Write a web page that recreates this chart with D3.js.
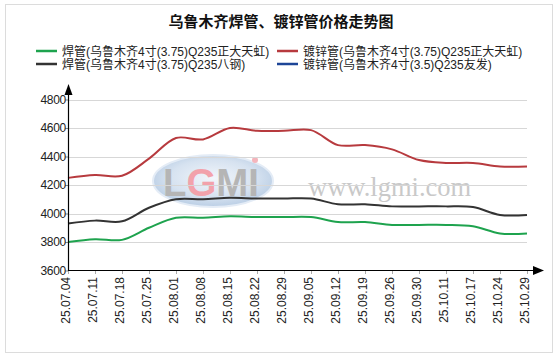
<!DOCTYPE html>
<html><head><meta charset="utf-8">
<script src="https://cdn.jsdelivr.net/npm/d3@7/dist/d3.min.js"></script>
<style>
html,body{margin:0;padding:0;background:#fff;}
</style></head>
<body><svg id="c" width="559" height="357" font-family="Arial,'Liberation Sans','Noto Sans CJK SC',sans-serif"></svg>
<script>
const title = "乌鲁木齐焊管、镀锌管价格走势图";
const dates = ["25.07.04","25.07.11","25.07.18","25.07.25","25.08.01","25.08.08","25.08.15","25.08.22","25.08.29","25.09.05","25.09.12","25.09.19","25.09.26","25.09.30","25.10.11","25.10.17","25.10.24","25.10.29"];
const seriesNames = ["焊管(乌鲁木齐4寸(3.75)Q235正大天虹)","镀锌管(乌鲁木齐4寸(3.75)Q235正大天虹)","焊管(乌鲁木齐4寸(3.75)Q235八钢)","镀锌管(乌鲁木齐4寸(3.5)Q235友发)"];
const weldZD = [3800,3820,3815,3900,3970,3970,3980,3975,3975,3975,3940,3940,3920,3920,3920,3910,3860,3860];
const galvZD = [4250,4270,4265,4385,4530,4520,4600,4580,4580,4585,4480,4480,4450,4375,4355,4355,4330,4330];
const weldBG = [3930,3950,3945,4040,4100,4100,4110,4105,4105,4105,4065,4065,4050,4050,4050,4045,3990,3990];
const galvYF = [null,null,null,null,null,null,null,null,null,null,null,null,null,null,null,null,null,null];
const yTicks = [3600,3800,4000,4200,4400,4600,4800];
const colors = ["#1ea34e","#b73a3e","#333333","#1d4597"];

const svg = d3.select("#c");
svg.append("rect").attr("x",5.5).attr("y",4.5).attr("width",547).attr("height",348)
  .attr("fill","#fff").attr("stroke","#dcdcdc");

const x = d3.scalePoint().domain(dates).range([68,527]);
const y = d3.scaleLinear().domain([3600,4800]).range([270.5,99.5]);

// title
svg.append("text").attr("x",281).attr("y",27).attr("text-anchor","middle")
  .attr("font-size",15).attr("font-weight","bold").attr("fill","#111").text(title);

// legend
const legPos = [[36,51],[277,51],[36,64],[277,64]];
seriesNames.forEach((n,i)=>{
  const [lx,ly]=legPos[i];
  svg.append("line").attr("x1",lx).attr("x2",lx+21).attr("y1",ly).attr("y2",ly)
    .attr("stroke",colors[i]).attr("stroke-width",2.5);
  svg.append("text").attr("x",lx+26).attr("y",ly+4.5).attr("font-size",12).attr("fill","#222").text(n);
});

// watermark
const wm = svg.append("g");
const defs = svg.append("defs");
const grad = defs.append("radialGradient").attr("id","eg").attr("cx","50%").attr("cy","45%").attr("r","60%");
grad.append("stop").attr("offset","0%").attr("stop-color","#f2f6fb");
grad.append("stop").attr("offset","60%").attr("stop-color","#d6e2f0");
grad.append("stop").attr("offset","100%").attr("stop-color","#b3c9e2");
wm.append("ellipse").attr("cx",213).attr("cy",181).attr("rx",60).attr("ry",26)
  .attr("fill","url(#eg)").attr("stroke","#e4ecf6").attr("stroke-width",2);
const lg = wm.append("text").attr("x",211).attr("y",196).attr("text-anchor","middle")
  .attr("font-size",38).attr("font-weight","bold").style("font-family","'Liberation Sans',Arial,sans-serif")
  .attr("textLength",96).attr("lengthAdjust","spacingAndGlyphs");
lg.append("tspan").attr("fill","#b5b5b5").text("L");
lg.append("tspan").attr("fill","#f2a2ab").text("G");
lg.append("tspan").attr("fill","#b5b5b5").text("MI");
wm.append("circle").attr("cx",255).attr("cy",160).attr("r",3).attr("fill","#f4b5bc");
wm.append("text").attr("x",308).attr("y",196).attr("font-size",26.5)
  .style("font-family","'Liberation Serif','Times New Roman',serif").attr("fill","#c9c9c9").text("www.lgmi.com");

// gridlines
svg.append("g").selectAll("line").data(yTicks.slice(1)).join("line")
  .attr("x1",68).attr("x2",527).attr("y1",d=>Math.round(y(d))+0.5).attr("y2",d=>Math.round(y(d))+0.5)
  .attr("stroke","#d7d7d7").attr("stroke-width",1);

// lines
const line = d3.line().defined(d=>d[1]!=null).x(d=>x(d[0])).y(d=>y(d[1])).curve(d3.curveCatmullRom.alpha(0.5));
[weldZD,galvZD,weldBG,galvYF].forEach((vals,i)=>{
  svg.append("path").datum(dates.map((d,j)=>[d,vals[j]])).attr("d",line)
    .attr("fill","none").attr("stroke",colors[i]).attr("stroke-width",2);
});

// y axis
const yAxis = svg.append("g").attr("transform","translate(68,0)")
  .call(d3.axisLeft(y).tickValues(yTicks).tickSize(3).tickFormat(d3.format("d")));
yAxis.attr("font-family",null);
yAxis.select(".domain").remove();
yAxis.selectAll(".tick line").attr("stroke","#888");
yAxis.selectAll("text").attr("font-size",12).attr("fill","#222").attr("x",-2).attr("letter-spacing","-0.3");
svg.append("line").attr("x1",68.5).attr("x2",68.5).attr("y1",271).attr("y2",92).attr("stroke","#000").attr("stroke-width",1.2);
svg.append("path").attr("d","M64.5,95 L68.5,84 L72.5,95 Z").attr("fill","#000");

// x axis
const xAxis = svg.append("g").attr("transform","translate(0,271)")
  .call(d3.axisBottom(x).tickSize(3).tickSizeOuter(0));
xAxis.attr("font-family",null);
xAxis.select(".domain").remove();
xAxis.selectAll(".tick line").attr("stroke","#aaa");
xAxis.selectAll("text").attr("font-size",12).attr("fill","#222")
  .attr("transform","rotate(-90)").attr("text-anchor","end")
  .attr("x",-6).attr("y",-3).attr("dy","0.35em").attr("dx",0);
svg.append("line").attr("x1",68).attr("x2",536).attr("y1",270.5).attr("y2",270.5).attr("stroke","#000").attr("stroke-width",1.2);
svg.append("path").attr("d","M533,266 L544,270.5 L533,275 Z").attr("fill","#000");
</script></body></html>
